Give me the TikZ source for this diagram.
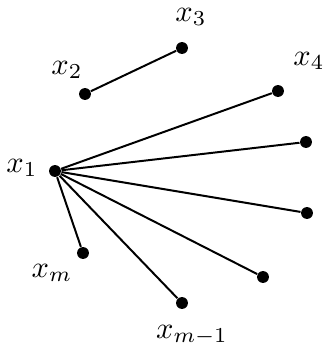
\documentclass[tikz,border=0pt]{standalone}
\begin{document}
\begin{tikzpicture}[x=0.328pt,y=-0.328pt,
  vtx/.style={circle,fill=black,inner sep=0pt,minimum size=3.9pt},
  lbl/.style={inner sep=0pt},
  edge/.style={line width=0.65pt}]
\useasboundingbox (0,0) rectangle (323,351);
\node[vtx] (v1) at (55,171) {};
\node[vtx] (v2) at (85,94) {};
\node[vtx] (v3) at (182,48) {};
\node[vtx] (v4) at (278,91) {};
\node[vtx] (v5) at (306,142) {};
\node[vtx] (v6) at (307,213) {};
\node[vtx] (v7) at (263,277) {};
\node[vtx] (v8) at (182,303) {};
\node[vtx] (v9) at (83,253) {};
\node[lbl] (l1) at (22,168) {$x_1$};
\node[lbl] (l2) at (67,70) {$x_2$};
\node[lbl] (l3) at (191,17) {$x_3$};
\node[lbl] (l4) at (309,61) {$x_4$};
\node[lbl] (l9) at (52,273) {$x_m$};
\node[lbl] (l8) at (192,335) {$x_{m-1}$};
\draw[edge] (v2) -- (v3);
\foreach \t in {v4,v5,v6,v7,v8,v9} \draw[edge] (v1) -- (\t);
\end{tikzpicture}
\end{document}
